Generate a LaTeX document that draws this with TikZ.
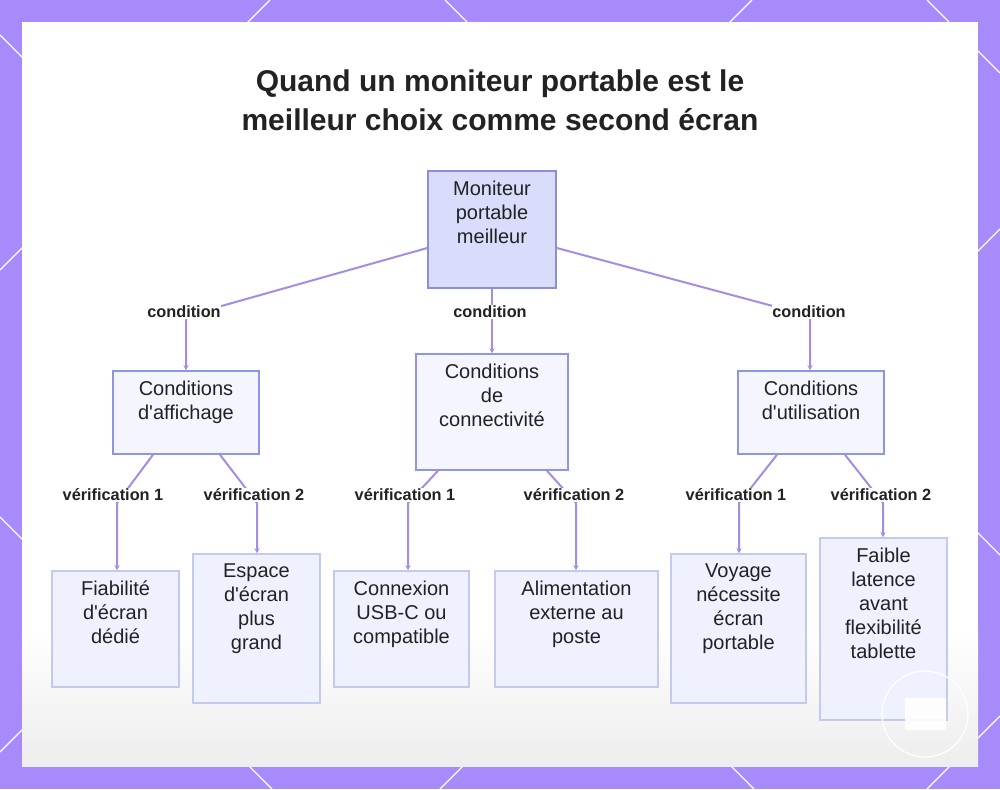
\documentclass[tikz,border=0pt]{standalone}
\usepackage{fontspec}
\setmainfont{Liberation Sans}
\usetikzlibrary{arrows.meta}
\definecolor{framec}{HTML}{A78BFA}
\definecolor{edgec}{HTML}{A58DE3}
\definecolor{rootfill}{HTML}{D9DCFB}
\definecolor{rootdraw}{HTML}{8A90D8}
\definecolor{midfill}{HTML}{F4F5FE}
\definecolor{middraw}{HTML}{8C96E4}
\definecolor{leaffill}{HTML}{EFF2FE}
\definecolor{leafdraw}{HTML}{C3CAF0}
\definecolor{txtc}{HTML}{222222}
\newcommand{\tbox}[7]{%
  \node[#1, minimum width={#5-#3}, minimum height={#6-#4}] (#2) at ({(#3+#5)/2},{(#4+#6)/2}) {};
  \node[boxtext] (#2-t) at ({(#3+#5)/2},{#4+10}) {#7};}
\newcommand{\aq}{\textquotesingle}
\begin{document}
\begin{tikzpicture}[x=1pt,y=-1pt,
  rootbox/.style={draw=rootdraw, fill=rootfill, line width=1.5pt, inner sep=0pt},
  midbox/.style={draw=middraw, fill=midfill, line width=1.5pt, inner sep=0pt},
  leafbox/.style={draw=leafdraw, fill=leaffill, line width=1.5pt, inner sep=0pt},
  boxtext/.style={anchor=north, align=center, inner sep=0pt, font=\fontsize{20}{24}\selectfont, text=txtc},
  edge/.style={draw=edgec, line width=2pt, -{Stealth[length=5pt,width=5pt]}},
  elabel/.style={font=\fontsize{16.3}{18}\selectfont\bfseries, text=txtc, fill=white, inner xsep=0.5pt, inner ysep=1pt},
  deco/.style={draw=white, line width=1.3pt}]
\useasboundingbox (0,0) rectangle (1000,789);
% frame
\fill[framec] (0,0) rectangle (1000,789);
\draw[deco] (0,35) -- (754,789);
\draw[deco] (0,517) -- (272,789);
\draw[deco] (445,0) -- (1000,555);
\draw[deco] (927,0) -- (1000,73);
\draw[deco] (270,0) -- (0,270);
\draw[deco] (752,0) -- (0,752);
\draw[deco] (1000,229) -- (440,789);
\draw[deco] (1000,716) -- (927,789);
\fill[white] (22,22) rectangle (978,766);
\shade[top color=white, bottom color=black!7] (22,630) rectangle (978,766);
% title
\node[align=center, font=\fontsize{30}{39}\selectfont\bfseries, text=txtc] (title) at (500,100)
  {Quand un moniteur portable est le\\meilleur choix comme second écran};
% boxes
\tbox{rootbox}{root}{428}{171}{556}{288}{Moniteur\\portable\\meilleur}
\tbox{midbox}{aff}{113}{371}{259}{454}{Conditions\\d\aq affichage}
\tbox{midbox}{conn}{416}{354}{568}{470}{Conditions\\de\\connectivité}
\tbox{midbox}{util}{738}{371}{884}{454}{Conditions\\d\aq utilisation}
\tbox{leafbox}{fia}{52}{571}{179}{687}{Fiabilité\\d\aq écran\\dédié}
\tbox{leafbox}{esp}{193}{554}{320}{703}{Espace\\d\aq écran\\plus\\grand}
\tbox{leafbox}{usb}{334}{571}{469}{687}{Connexion\\USB-C ou\\compatible}
\tbox{leafbox}{ali}{495}{571}{658}{687}{Alimentation\\externe au\\poste}
\tbox{leafbox}{voy}{671}{554}{806}{703}{Voyage\\nécessite\\écran\\portable}
\tbox{leafbox}{fai}{820}{538}{947}{720}{Faible\\latence\\avant\\flexibilité\\tablette}
% bend points
\coordinate (c1) at (186,316);
\coordinate (c3) at (810,316);
\coordinate (v1) at (117,503);
\coordinate (v2) at (257,503);
\coordinate (v3) at (408,503);
\coordinate (v4) at (576,503);
\coordinate (v5) at (739,503);
\coordinate (v6) at (883,503);
% edges
\draw[edge] ([yshift=-18.5pt]root.west) -- (c1) -- (c1 |- aff.north);
\draw[edge] (root) -- (conn);
\draw[edge] ([yshift=-18.5pt]root.east) -- (c3) -- (c3 |- util.north);
\draw[edge] ([xshift=-33pt]aff.south) -- (v1) -- (v1 |- fia.north);
\draw[edge] ([xshift=34pt]aff.south) -- (v2) -- (v2 |- esp.north);
\draw[edge] ([xshift=-54pt]conn.south) -- (v3) -- (v3 |- usb.north);
\draw[edge] ([xshift=55pt]conn.south) -- (v4) -- (v4 |- ali.north);
\draw[edge] ([xshift=-34pt]util.south) -- (v5) -- (v5 |- voy.north);
\draw[edge] ([xshift=34pt]util.south) -- (v6) -- (v6 |- fai.north);
% edge labels
\node[elabel] (l1) at (184,312) {condition};
\node[elabel] (l2) at (490,312) {condition};
\node[elabel] (l3) at (809,312) {condition};
\node[elabel] (l4) at (113,495) {vérification 1};
\node[elabel] (l5) at (254,495) {vérification 2};
\node[elabel] (l6) at (405,495) {vérification 1};
\node[elabel] (l7) at (574,495) {vérification 2};
\node[elabel] (l8) at (736,495) {vérification 1};
\node[elabel] (l9) at (881,495) {vérification 2};
% watermark circle
\draw[white, line width=1.2pt] (925,714) circle (43);
\fill[white, opacity=0.9, rounded corners=2pt] (905,698) rectangle (946,730);
\end{tikzpicture}
\end{document}
